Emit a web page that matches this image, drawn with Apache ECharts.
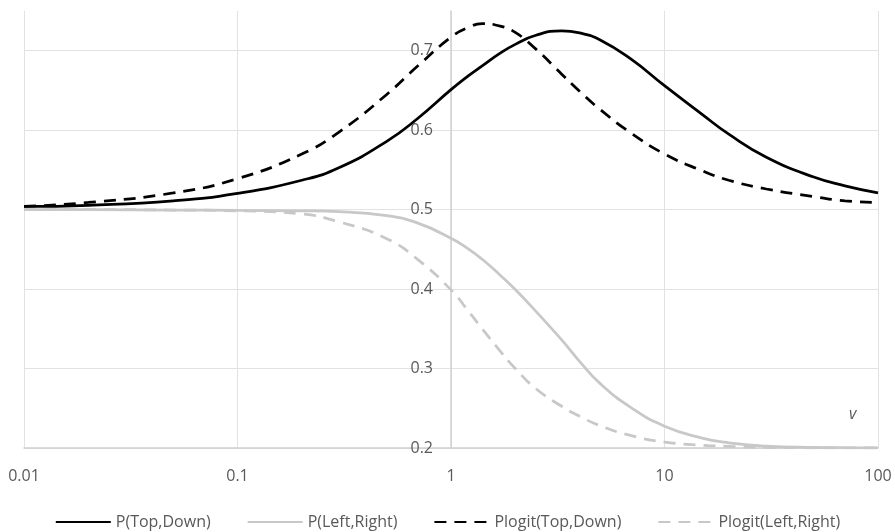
<!DOCTYPE html>
<html>
<head>
<meta charset="utf-8">
<script src="https://cdn.jsdelivr.net/npm/echarts@6/dist/echarts.min.js"></script>
<style>html,body{margin:0;padding:0;background:#fff}#c{width:895px;height:532px}</style>
</head>
<body>
<div id="c"></div>
<script>
const vValues = [0.01,0.02,0.05,0.1,0.2,0.3,0.5,0.7,1,1.2,1.4,1.7,2,2.5,3.3,4,5,7,10,15,20,30,50,70,100];
const pTopDown        = [0.504,0.5055,0.511,0.5205,0.537,0.553,0.586,0.615,0.651,0.668,0.681,0.697,0.708,0.7195,0.725,0.7225,0.7135,0.689,0.656,0.620,0.595,0.566,0.541,0.530,0.521];
const pLeftRight      = [0.5,0.5,0.4995,0.499,0.4985,0.4975,0.4925,0.483,0.464,0.451,0.4375,0.4175,0.3995,0.372,0.336,0.309,0.281,0.2505,0.2275,0.2125,0.2065,0.2025,0.2008,0.2004,0.2002];
const plogitTopDown   = [0.504,0.509,0.521,0.539,0.570,0.598,0.645,0.681,0.717,0.729,0.734,0.731,0.723,0.702,0.6705,0.649,0.626,0.596,0.570,0.549,0.537,0.526,0.5165,0.511,0.509];
const plogitLeftRight = [0.5,0.5,0.4995,0.4985,0.4945,0.4845,0.4635,0.437,0.399,0.373,0.350,0.322,0.300,0.2745,0.2525,0.240,0.228,0.2155,0.2075,0.2035,0.202,0.2008,0.2003,0.2002,0.2001];
const seriesNames = ['P(Top,Down)','P(Left,Right)','Plogit(Top,Down)','Plogit(Left,Right)'];
const xTickLabels = ['0.01','0.1','1','10','100'];
const yTickLabels = ['0.2','0.3','0.4','0.5','0.6','0.7'];

const pair = arr => vValues.map((v,i)=>[v,arr[i]]);
const font = 'Open Sans';
const chart = echarts.init(document.getElementById('c'));
function mk(name, data, color, dashed, z){
  return {name, type:'line', data:pair(data), smooth:0.5, symbol:'none',
    lineStyle:{color, width:2.75, type: dashed ? [12,8] : 'solid', cap:'butt'},
    itemStyle:{color}, z};
}
chart.setOption({
  animation:false,
  grid:{left:24,right:17,top:11,bottom:84,containLabel:false},
  xAxis:{type:'log',logBase:10,min:0.01,max:100,
    axisLine:{show:true,lineStyle:{color:'#d0d0d0',width:1.5}},
    axisTick:{show:false},
    axisLabel:{color:'#595959',fontFamily:font,fontSize:16,margin:20,
      formatter:v=>{const k=Math.round(Math.log10(v))+2;return xTickLabels[k]!==undefined?xTickLabels[k]:'';}},
    splitLine:{show:true,lineStyle:{color:'#e2e2e2',width:1}}
  },
  yAxis:{type:'value',min:0.2,max:0.75,interval:0.1,position:'left',offset:-427,
    axisLine:{show:true,lineStyle:{color:'#d0d0d0',width:1.5}},
    axisTick:{show:false},
    axisLabel:{color:'#595959',fontFamily:font,fontSize:16,margin:18,showMaxLabel:false,
      formatter:v=>{const k=Math.round((v-0.2)*10);return Math.abs(v-(0.2+k*0.1))<1e-6?yTickLabels[k]:'';}},
    splitLine:{show:true,showMaxLine:false,lineStyle:{color:'#e2e2e2',width:1}}
  },
  legend:{bottom:-3,left:'center',itemWidth:55,itemHeight:14,itemGap:36,
    itemStyle:{opacity:0},
    textStyle:{color:'#595959',fontFamily:font,fontSize:16},
    data:seriesNames},
  graphic:[{type:'text',left:849,top:406,style:{text:'v',fill:'#595959',font:'italic 16px "Open Sans"'}}],
  series:[
    mk(seriesNames[1],pLeftRight,'#c8c8c8',false,2),
    mk(seriesNames[3],plogitLeftRight,'#c8c8c8',true,2),
    mk(seriesNames[0],pTopDown,'#000000',false,3),
    mk(seriesNames[2],plogitTopDown,'#000000',true,3)
  ]
});
</script>
</body>
</html>
